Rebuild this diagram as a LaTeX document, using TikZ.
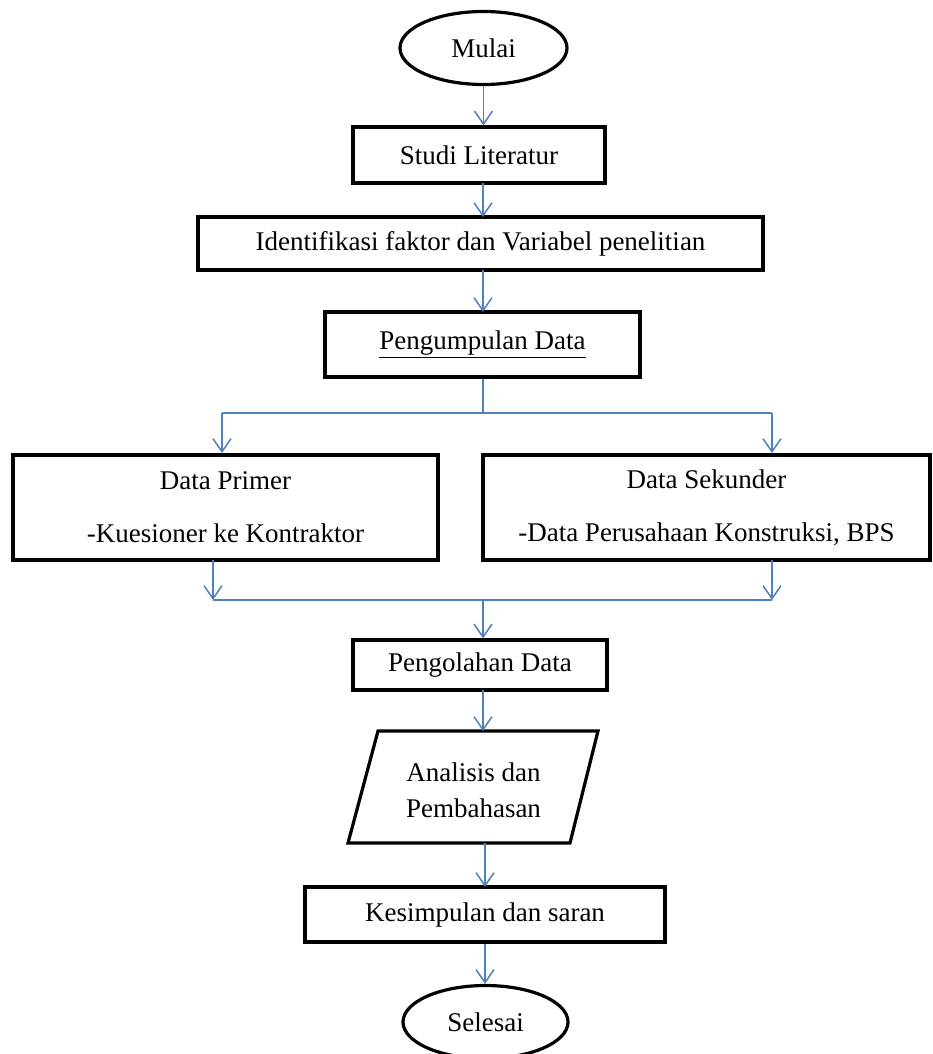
\documentclass[tikz,border=0pt]{standalone}
\usepackage{fontspec}
\setmainfont{Liberation Serif}
\usetikzlibrary{shapes.geometric,arrows.meta,calc}
\definecolor{arrblue}{RGB}{79,129,189}
\begin{document}
\begin{tikzpicture}[x=1pt,y=-1pt,
  every node/.style={font=\fontsize{27}{32}\selectfont, inner sep=0pt},
  boxnode/.style={draw=black, line width=3.2pt, rectangle, align=center},
  termnode/.style={draw=black, line width=3.2pt, ellipse, minimum width=167pt, minimum height=73pt},
  arr/.style={draw=arrblue, line width=1.5pt, -{Straight Barb[length=13pt,width=18pt,line width=1.5pt]}},
  ln/.style={draw=arrblue, line width=1.5pt}]
\useasboundingbox (0,0) rectangle (933,1054);
\fill[white] (0,0) rectangle (933,1054);

\node[termnode] (mulai) at (483.5,48) {Mulai};
\node[boxnode, minimum width=252pt, minimum height=56pt] (studi) at (479,155) {Studi Literatur};
\node[boxnode, minimum width=565pt, minimum height=53pt] (iden) at (480.5,243.5) {Identifikasi faktor dan Variabel penelitian};
\node[boxnode, minimum width=315pt, minimum height=65pt] (peng) at (482.5,344.5) {\underline{Pengumpulan Data}};
\node[boxnode, minimum width=425pt, minimum height=105pt] (prim) at (225.5,507.5) {Data Primer\\[21pt]-Kuesioner ke Kontraktor};
\node[boxnode, minimum width=447pt, minimum height=105pt] (sek) at (706.5,507.5) {Data Sekunder\\[21pt]-Data Perusahaan Konstruksi, BPS};
\node[boxnode, minimum width=254pt, minimum height=50pt] (olah) at (480,665) {Pengolahan Data};
\node[align=center, minimum width=220pt, minimum height=112pt] (ana) at (473.5,790) {Analisis dan\\[4pt]Pembahasan};
\draw[line width=3.2pt, line join=miter] (378,731) -- (598,731) -- (570,843) -- (348,843) -- cycle;
\node[boxnode, minimum width=360pt, minimum height=55pt] (kes) at (485,914.5) {Kesimpulan dan saran};
\node[termnode, minimum width=165pt] (sel) at (485.5,1022) {Selesai};

\coordinate (j1) at (483,413);
\coordinate (j2) at (483,600);
\coordinate (pt) at (222,453);
\coordinate (st) at (772,453);
\coordinate (pb) at (213,560);
\coordinate (sb) at (772,560);
\coordinate (pj) at (213,600);
\coordinate (sj) at (772,600);

\draw[arr] (mulai.south) -- (mulai.south |- studi.north);
\draw[arr] (483,183) -- (483,217);
\draw[arr] (483,270) -- (483,312);
\draw[ln] (j1 |- peng.south) -- (j1);
\draw[ln] (pt |- j1) -- (st |- j1);
\draw[arr] (pt |- j1) -- (pt);
\draw[arr] (st |- j1) -- (st);
\draw[arr] (pb) -- (pj);
\draw[arr] (sb) -- (sj);
\draw[ln] (pj) -- (sj);
\draw[arr] (j2) -- (j2 |- olah.north);
\draw[arr] (483,690) -- (483,731);
\draw[arr] (485,843) -- (485 ,887);
\draw[arr] (kes.south) -- (kes.south |- sel.north);
\end{tikzpicture}
\end{document}
